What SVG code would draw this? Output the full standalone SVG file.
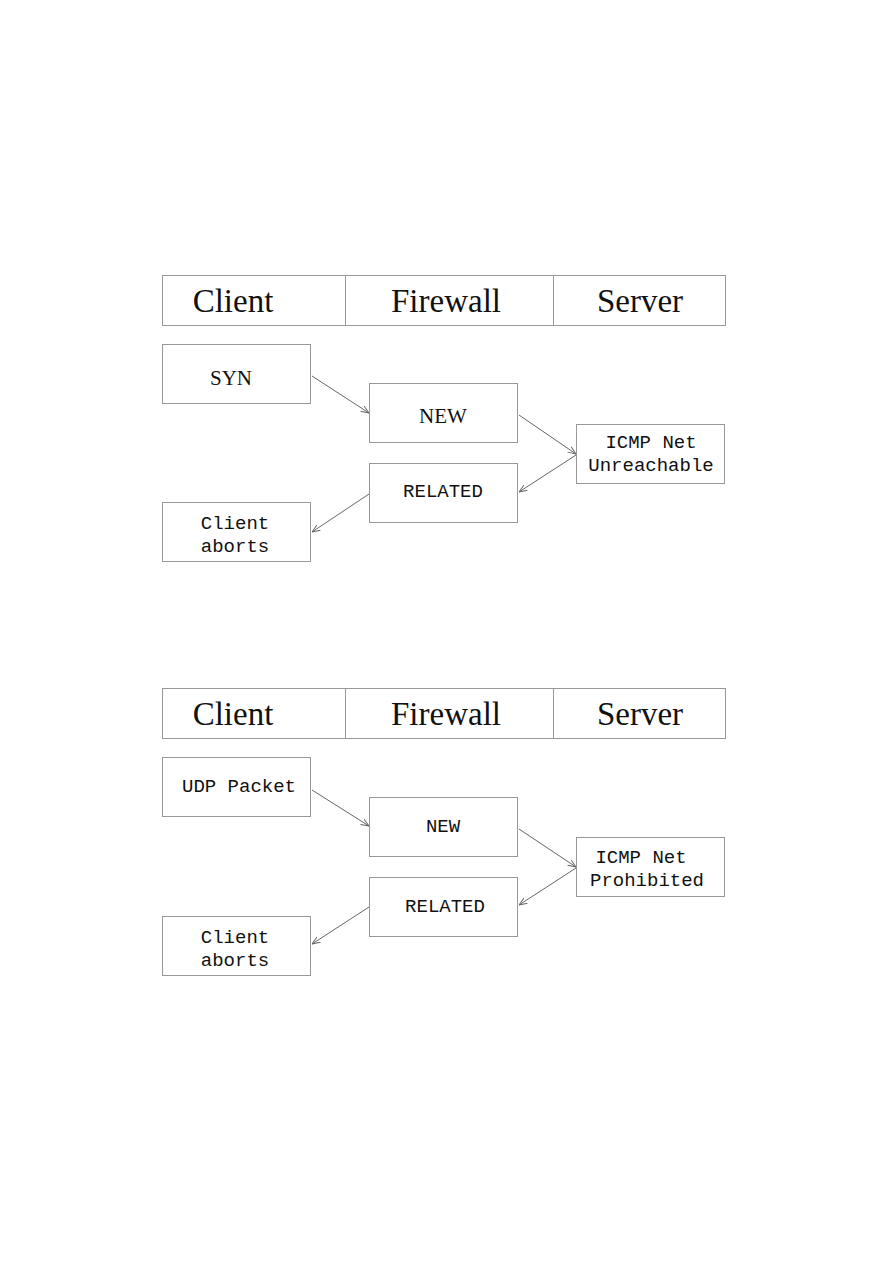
<svg xmlns="http://www.w3.org/2000/svg" width="893" height="1263" viewBox="0 0 893 1263">
<style>
.box{fill:#fff;stroke:#999;stroke-width:1}
.hdr{font-family:"Liberation Serif",serif;font-size:33px;fill:#111;text-anchor:middle}
.ser{font-family:"Liberation Serif",serif;font-size:21px;fill:#111;text-anchor:middle}
.mono{font-family:"Liberation Mono",monospace;font-size:19px;fill:#111;text-anchor:middle}
.con{stroke:#666;stroke-width:1;fill:none;marker-end:url(#ah)}
</style>
<defs>
<marker id="ah" viewBox="0 0 10 10" refX="10" refY="5" markerWidth="8" markerHeight="8" markerUnits="userSpaceOnUse" orient="auto">
<path d="M0,1 L10,5 L0,9" fill="none" stroke="#666" stroke-width="1.2"/>
</marker>
</defs>
<rect width="893" height="1263" fill="#fff"/>
<g id="header1">
<rect class="box" x="162.5" y="275.5" width="563" height="50"/>
<line x1="345.5" y1="275.5" x2="345.5" y2="325.5" stroke="#999"/>
<line x1="553.5" y1="275.5" x2="553.5" y2="325.5" stroke="#999"/>
<text class="hdr" x="233" y="312">Client</text>
<text class="hdr" x="446" y="312">Firewall</text>
<text class="hdr" x="640" y="312">Server</text>
</g>
<g id="syn"><rect class="box" x="162.5" y="344.5" width="148" height="59"/><text class="ser" x="231" y="385">SYN</text></g>
<g id="new1"><rect class="box" x="369.5" y="383.5" width="148" height="59"/><text class="ser" x="443" y="423">NEW</text></g>
<g id="icmp1"><rect class="box" x="576.5" y="424.5" width="148" height="59"/><text class="mono" x="651" y="448">ICMP Net</text><text class="mono" x="651" y="471">Unreachable</text></g>
<g id="related1"><rect class="box" x="369.5" y="463.5" width="148" height="59"/><text class="mono" x="443" y="497">RELATED</text></g>
<g id="abort1"><rect class="box" x="162.5" y="502.5" width="148" height="59"/><text class="mono" x="235" y="529">Client</text><text class="mono" x="235" y="552">aborts</text></g>
<g id="header2">
<rect class="box" x="162.5" y="688.5" width="563" height="50"/>
<line x1="345.5" y1="688.5" x2="345.5" y2="738.5" stroke="#999"/>
<line x1="553.5" y1="688.5" x2="553.5" y2="738.5" stroke="#999"/>
<text class="hdr" x="233" y="725">Client</text>
<text class="hdr" x="446" y="725">Firewall</text>
<text class="hdr" x="640" y="725">Server</text>
</g>
<g id="udp"><rect class="box" x="162.5" y="757.5" width="148" height="59"/><text class="mono" x="239" y="792">UDP Packet</text></g>
<g id="new2"><rect class="box" x="369.5" y="797.5" width="148" height="59"/><text class="mono" x="443" y="832">NEW</text></g>
<g id="icmp2"><rect class="box" x="576.5" y="837.5" width="148" height="59"/><text class="mono" x="641" y="863">ICMP Net</text><text class="mono" x="647" y="886">Prohibited</text></g>
<g id="related2"><rect class="box" x="369.5" y="877.5" width="148" height="59"/><text class="mono" x="445" y="912">RELATED</text></g>
<g id="abort2"><rect class="box" x="162.5" y="916.5" width="148" height="59"/><text class="mono" x="235" y="943">Client</text><text class="mono" x="235" y="966">aborts</text></g>
<g id="connectors">
<line class="con" x1="312" y1="376" x2="369" y2="413"/>
<line class="con" x1="519" y1="415" x2="576" y2="454"/>
<line class="con" x1="576" y1="455" x2="519" y2="492"/>
<line class="con" x1="369" y1="494" x2="312" y2="532"/>
<line class="con" x1="312" y1="790" x2="369" y2="826"/>
<line class="con" x1="519" y1="829" x2="576" y2="867"/>
<line class="con" x1="576" y1="868" x2="519" y2="905"/>
<line class="con" x1="369" y1="907" x2="312" y2="944"/>
</g>
</svg>
